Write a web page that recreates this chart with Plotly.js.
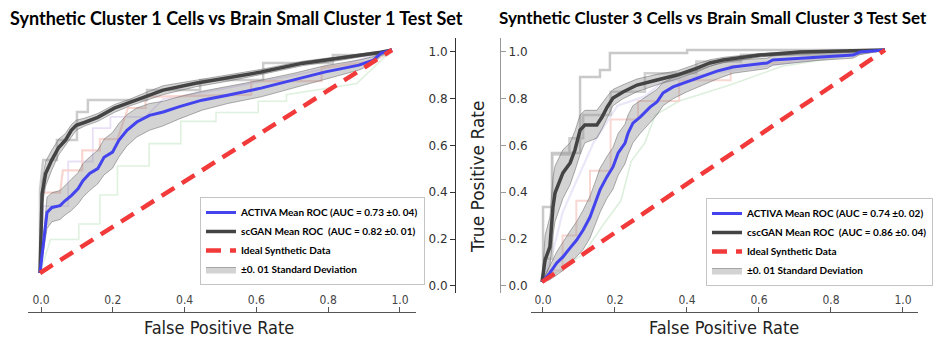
<!DOCTYPE html>
<html>
<head>
<meta charset="utf-8">
<script src="https://cdn.plot.ly/plotly-3.0.1.min.js"></script>
<style>html,body{margin:0;padding:0;background:#fff}#chart{width:938px;height:341px}</style>
</head>
<body>
<div id="chart"></div>
<script>
// ---------- DATA ----------
const tickVals = [0, 0.2, 0.4, 0.6, 0.8, 1.0];
const tickText = ['0.0', '0.2', '0.4', '0.6', '0.8', '1.0'];

const idealX = [0, 1];
const idealY = [0, 1];

// Left panel: Cluster 1
const L_activaX = [0,0.02,0.034,0.057,0.071,0.089,0.108,0.122,0.141,0.164,0.182,0.206,0.224,0.247,0.275,0.311,0.35,0.394,0.46,0.533,0.628,0.719,0.811,0.906,0.947,0.969,1];
const L_activaY = [0,0.272,0.294,0.302,0.324,0.347,0.378,0.414,0.446,0.468,0.519,0.542,0.595,0.64,0.677,0.707,0.722,0.745,0.775,0.797,0.829,0.865,0.902,0.932,0.955,0.986,1];
const L_activaLo = [0,0.2,0.23,0.24,0.26,0.28,0.31,0.34,0.37,0.4,0.44,0.47,0.52,0.57,0.61,0.64,0.66,0.69,0.73,0.76,0.79,0.83,0.87,0.91,0.94,0.975,1];
const L_activaHi = [0,0.34,0.36,0.37,0.39,0.42,0.45,0.49,0.52,0.55,0.6,0.63,0.67,0.71,0.74,0.76,0.77,0.79,0.815,0.835,0.865,0.895,0.93,0.955,0.97,0.995,1];

const L_ganX = [0,0.006,0.016,0.033,0.053,0.072,0.089,0.103,0.128,0.164,0.211,0.256,0.294,0.35,0.442,0.533,0.628,0.747,0.858,0.969,1];
const L_ganY = [0,0.356,0.446,0.505,0.563,0.595,0.64,0.662,0.676,0.698,0.739,0.766,0.788,0.82,0.851,0.874,0.901,0.941,0.964,0.99,1];
const L_ganLo = [0,0.3,0.39,0.46,0.53,0.57,0.61,0.64,0.66,0.68,0.72,0.75,0.77,0.8,0.835,0.86,0.89,0.93,0.955,0.985,1];
const L_ganHi = [0,0.41,0.5,0.55,0.6,0.625,0.665,0.685,0.695,0.715,0.755,0.78,0.805,0.84,0.867,0.888,0.913,0.95,0.972,0.995,1];

// faint individual runs (step corners), left
const L_runGrayX = [0,0,0.009,0.048,0.048,0.105,0.105,0.136,0.136,0.304,0.304,0.455,0.455,0.634,0.634,0.832,0.832,0.986,1];
const L_runGrayY = [0,0.372,0.507,0.507,0.596,0.596,0.722,0.722,0.776,0.776,0.821,0.821,0.865,0.865,0.942,0.942,0.978,0.978,1];
const L_runPinkX = [0,0.005,0.057,0.065,0.12,0.12,0.17,0.17,0.22,0.25,0.3,0.3,0.6,0.6,0.8,0.8,0.95,1];
const L_runPinkY = [0,0.36,0.36,0.46,0.46,0.55,0.55,0.6,0.6,0.74,0.74,0.79,0.8,0.86,0.86,0.92,0.95,1];
const L_runGreenX = [0,0.03,0.11,0.11,0.17,0.17,0.22,0.22,0.31,0.31,0.4,0.4,0.5,0.5,0.62,0.62,0.7,0.7,0.9,1];
const L_runGreenY = [0,0.15,0.15,0.22,0.22,0.35,0.35,0.48,0.48,0.58,0.58,0.68,0.68,0.72,0.72,0.77,0.77,0.8,0.85,1];
const L_runLavX = [0,0.01,0.08,0.08,0.15,0.15,0.2,0.2,0.3,0.35,0.5,0.7,0.85,1];
const L_runLavY = [0,0.3,0.3,0.5,0.5,0.65,0.65,0.7,0.7,0.78,0.82,0.88,0.93,1];

// Right panel: Cluster 3
const R_activaX = [0,0.023,0.043,0.061,0.082,0.101,0.12,0.14,0.155,0.169,0.189,0.207,0.222,0.242,0.251,0.265,0.286,0.315,0.335,0.353,0.382,0.423,0.469,0.51,0.557,0.656,0.673,0.802,0.907,0.927,1];
const R_activaY = [0,0.039,0.082,0.108,0.147,0.181,0.224,0.28,0.341,0.397,0.453,0.496,0.556,0.599,0.642,0.685,0.711,0.754,0.776,0.815,0.841,0.862,0.888,0.909,0.927,0.944,0.957,0.97,0.978,0.991,1];
const R_activaLo = [0,0.01,0.03,0.05,0.08,0.11,0.14,0.19,0.25,0.3,0.36,0.4,0.46,0.51,0.55,0.6,0.64,0.69,0.72,0.76,0.79,0.82,0.85,0.875,0.9,0.92,0.935,0.955,0.965,0.98,1];
const R_activaHi = [0,0.07,0.13,0.17,0.22,0.26,0.31,0.37,0.43,0.49,0.54,0.58,0.64,0.68,0.72,0.76,0.78,0.81,0.83,0.86,0.88,0.9,0.92,0.94,0.955,0.965,0.975,0.985,0.99,0.998,1];

const R_ganX = [0,0.009,0.023,0.032,0.038,0.061,0.082,0.096,0.111,0.125,0.16,0.175,0.19,0.207,0.236,0.277,0.335,0.394,0.452,0.49,0.528,0.636,0.752,1];
const R_ganY = [0,0.095,0.151,0.323,0.384,0.47,0.513,0.569,0.655,0.677,0.677,0.711,0.754,0.793,0.819,0.849,0.871,0.892,0.922,0.944,0.957,0.978,0.991,1];
const R_ganLo = [0,0.03,0.07,0.2,0.26,0.36,0.42,0.48,0.55,0.6,0.62,0.66,0.71,0.76,0.79,0.82,0.85,0.875,0.905,0.93,0.945,0.97,0.985,1];
const R_ganHi = [0,0.2,0.28,0.45,0.5,0.57,0.6,0.65,0.72,0.74,0.74,0.77,0.8,0.83,0.85,0.875,0.895,0.91,0.94,0.958,0.968,0.985,0.995,1];

// faint individual runs, right
const R_runGrayX = [0,0.003,0.003,0.029,0.029,0.111,0.111,0.169,0.169,0.198,0.198,0.423,0.423,1];
const R_runGrayY = [0,0.009,0.323,0.323,0.556,0.556,0.884,0.884,0.914,0.914,0.987,0.987,1,1];
const R_runGray2X = [0,0.01,0.03,0.03,0.08,0.08,0.12,0.12,0.2,0.2,0.3,0.3,0.45,0.45,0.58,0.58,0.9,1];
const R_runGray2Y = [0,0.1,0.1,0.55,0.55,0.62,0.62,0.72,0.72,0.82,0.82,0.9,0.9,0.95,0.95,0.98,0.98,1];
const R_runPinkX = [0,0.02,0.06,0.06,0.1,0.1,0.14,0.14,0.2,0.2,0.28,0.28,0.4,0.4,0.55,0.55,0.75,1];
const R_runPinkY = [0,0.05,0.05,0.2,0.2,0.35,0.35,0.48,0.48,0.7,0.7,0.78,0.78,0.87,0.87,0.93,0.95,1];
const R_runLavX = [0,0.03,0.06,0.12,0.15,0.22,0.3,0.35,0.5,1];
const R_runLavY = [0,0.12,0.3,0.5,0.6,0.76,0.8,0.86,0.9,1];
const R_runGreenX = [0,0.05,0.12,0.18,0.23,0.26,0.3,0.33,0.4,0.55,0.7,1];
const R_runGreenY = [0,0.05,0.12,0.25,0.35,0.52,0.6,0.72,0.78,0.85,0.93,1];

const NB = '\u00a0';
const L_names = ['<b>ACTIVA Mean ROC (AUC = 0.73 ±0.' + NB + '04)</b>', '<b>scGAN Mean ROC ' + NB + '(AUC = 0.82 ±0.' + NB + '01)</b>', '<b>Ideal Synthetic Data</b>', '<b>±0.' + NB + '01 Standard Deviation</b>'];
const R_names = ['<b>ACTIVA Mean ROC (AUC = 0.74 ±0.' + NB + '02)</b>', '<b>cscGAN Mean ROC ' + NB + '(AUC = 0.86 ±0.' + NB + '04)</b>', '<b>Ideal Synthetic Data</b>', '<b>±0.' + NB + '01 Standard Deviation</b>'];

const titles = ['Synthetic Cluster 1 Cells vs Brain Small Cluster 1 Test Set', 'Synthetic Cluster 3 Cells vs Brain Small Cluster 3 Test Set'];
const xTitle = 'False Positive Rate';
const yTitle = 'True Positive Rate';

// ---------- BUILD ----------
const W = 938, H = 341;
const px = v => v / W;
const py = v => 1 - v / H;

const BLUE = '#4444ee', DARK = '#444444', RED = '#f23a3a';
const BAND = 'rgba(140,140,140,0.38)', BANDLINE = 'rgba(110,110,110,0.55)';

function band(x, lo, hi, xa, ya, name, lg, show) {
  return {type: 'scatter', mode: 'lines', x: x.concat(x.slice().reverse()), y: lo.concat(hi.slice().reverse()),
    fill: 'toself', fillcolor: BAND, line: {color: BANDLINE, width: 1}, xaxis: xa, yaxis: ya,
    name: name, legend: lg, showlegend: show, legendrank: 4, hoverinfo: 'skip'};
}
function run(x, y, color, w, xa, ya) {
  return {type: 'scatter', mode: 'lines', x: x, y: y, line: {color: color, width: w}, xaxis: xa, yaxis: ya, showlegend: false, hoverinfo: 'skip'};
}
function mean(x, y, color, w, xa, ya, name, lg, rank) {
  return {type: 'scatter', mode: 'lines', x: x, y: y, line: {color: color, width: w}, xaxis: xa, yaxis: ya, name: name, legend: lg, legendrank: rank};
}
function ideal(xa, ya, name, lg) {
  return {type: 'scatter', mode: 'lines', x: idealX, y: idealY, line: {color: RED, width: 4.5, dash: '15px,9px'}, xaxis: xa, yaxis: ya, name: name, legend: lg, legendrank: 3};
}

const traces = [
  run(L_runGreenX, L_runGreenY, 'rgba(212,236,212,0.75)', 1.6, 'x', 'y'),
  run(L_runLavX, L_runLavY, 'rgba(228,216,246,0.8)', 1.8, 'x', 'y'),
  run(L_runPinkX, L_runPinkY, 'rgba(248,208,203,0.9)', 2.2, 'x', 'y'),
  run(L_runGrayX, L_runGrayY, 'rgba(195,195,195,0.85)', 2.5, 'x', 'y'),
  band(L_ganX, L_ganLo, L_ganHi, 'x', 'y', L_names[3], 'legend', false),
  band(L_activaX, L_activaLo, L_activaHi, 'x', 'y', L_names[3], 'legend', true),
  mean(L_ganX, L_ganY, DARK, 3.5, 'x', 'y', L_names[1], 'legend', 2),
  mean(L_activaX, L_activaY, BLUE, 3, 'x', 'y', L_names[0], 'legend', 1),
  ideal('x', 'y', L_names[2], 'legend'),

  run(R_runGreenX, R_runGreenY, 'rgba(210,234,210,0.75)', 1.6, 'x2', 'y2'),
  run(R_runPinkX, R_runPinkY, 'rgba(248,212,207,0.9)', 2, 'x2', 'y2'),
  run(R_runLavX, R_runLavY, 'rgba(232,228,248,0.9)', 2.2, 'x2', 'y2'),
  run(R_runGray2X, R_runGray2Y, 'rgba(200,200,200,0.85)', 2.5, 'x2', 'y2'),
  run(R_runGrayX, R_runGrayY, 'rgba(195,195,195,0.9)', 2.5, 'x2', 'y2'),
  band(R_ganX, R_ganLo, R_ganHi, 'x2', 'y2', R_names[3], 'legend2', false),
  band(R_activaX, R_activaLo, R_activaHi, 'x2', 'y2', R_names[3], 'legend2', true),
  mean(R_ganX, R_ganY, DARK, 3.5, 'x2', 'y2', R_names[1], 'legend2', 2),
  mean(R_activaX, R_activaY, BLUE, 3, 'x2', 'y2', R_names[0], 'legend2', 1),
  ideal('x2', 'y2', R_names[2], 'legend2'),

  {type: 'scatter', x: [null], y: [null], xaxis: 'x3', yaxis: 'y3', showlegend: false, hoverinfo: 'skip'},
  {type: 'scatter', x: [null], y: [null], xaxis: 'x4', yaxis: 'y4', showlegend: false, hoverinfo: 'skip'}
];

const hidden = {visible: false, range: [-0.05, 1.05], fixedrange: true};
const condensed = 'DejaVu Sans Condensed, Liberation Sans Narrow, DejaVu Sans, sans-serif';
const xDisp = (dom, rng) => ({domain: dom, range: rng, anchor: 'free', position: py(312),
  showline: true, linecolor: '#555', linewidth: 1.2, ticks: 'inside', ticklen: 5, tickcolor: '#555',
  ticklabelposition: 'inside', tickvals: tickVals, ticktext: tickText,
  tickfont: {family: condensed, size: 12, color: '#444'}, showgrid: false, zeroline: false, fixedrange: true});
const yDisp = (pos, side, col) => ({domain: [py(293), py(38)], range: [-0.0299, 1.0576], anchor: 'free', position: pos, side: side,
  showline: true, linecolor: col, linewidth: 1.2, ticks: 'outside', ticklen: 5, tickcolor: col,
  tickvals: tickVals, ticktext: tickText, tickfont: {family: 'DejaVu Sans', size: 12, color: '#333'},
  showgrid: false, zeroline: false, fixedrange: true});

const legendBase = {xanchor: 'left', yanchor: 'top', bgcolor: '#fff', bordercolor: '#c4c4c4', borderwidth: 1,
  font: {family: 'Lato, Open Sans, sans-serif', size: 10, color: '#000'}, traceorder: 'normal', itemwidth: 30};

const layout = {
  width: W, height: H, margin: {l: 0, r: 0, t: 0, b: 0}, paper_bgcolor: '#fff', plot_bgcolor: 'rgba(0,0,0,0)',
  xaxis: Object.assign({domain: [px(22.4), px(409.6)], anchor: 'y'}, hidden),
  yaxis: Object.assign({domain: [py(284.15), py(38.85)], anchor: 'x'}, hidden),
  xaxis2: Object.assign({domain: [px(524.85), px(902.15)], anchor: 'y2'}, hidden),
  yaxis2: Object.assign({domain: [py(293.6), py(38.4)], anchor: 'x2'}, hidden),
  xaxis3: xDisp([px(28), px(416)], [-0.0362, 1.0446]),
  yaxis3: yDisp(px(455), 'left', '#333'),
  xaxis4: xDisp([px(531), px(918)], [-0.0333, 1.0417]),
  yaxis4: yDisp(px(500), 'right', '#999'),
  legend: Object.assign({x: px(200), y: py(197)}, legendBase),
  legend2: Object.assign({x: px(706), y: py(198)}, legendBase),
  showlegend: true,
  annotations: [
    {text: '<b>' + titles[0] + '</b>', x: px(236), y: py(18), xref: 'paper', yref: 'paper', showarrow: false, xanchor: 'center', yanchor: 'middle',
      font: {family: 'Lato, Open Sans, sans-serif', size: 18, color: '#000'}},
    {text: '<b>' + titles[1] + '</b>', x: px(713), y: py(18), xref: 'paper', yref: 'paper', showarrow: false, xanchor: 'center', yanchor: 'middle',
      font: {family: 'Lato, Open Sans, sans-serif', size: 17, color: '#000'}},
    {text: xTitle, x: px(219), y: py(327), xref: 'paper', yref: 'paper', showarrow: false, xanchor: 'center', yanchor: 'middle',
      font: {family: condensed, size: 18, color: '#222'}},
    {text: xTitle, x: px(724), y: py(327), xref: 'paper', yref: 'paper', showarrow: false, xanchor: 'center', yanchor: 'middle',
      font: {family: condensed, size: 18, color: '#222'}},
    {text: yTitle, x: px(478), y: py(177), xref: 'paper', yref: 'paper', showarrow: false, xanchor: 'center', yanchor: 'middle', textangle: -90,
      font: {family: 'DejaVu Sans', size: 17, color: '#222'}}
  ]
};

Plotly.newPlot('chart', traces, layout, {displayModeBar: false, staticPlot: true});
</script>
</body>
</html>
